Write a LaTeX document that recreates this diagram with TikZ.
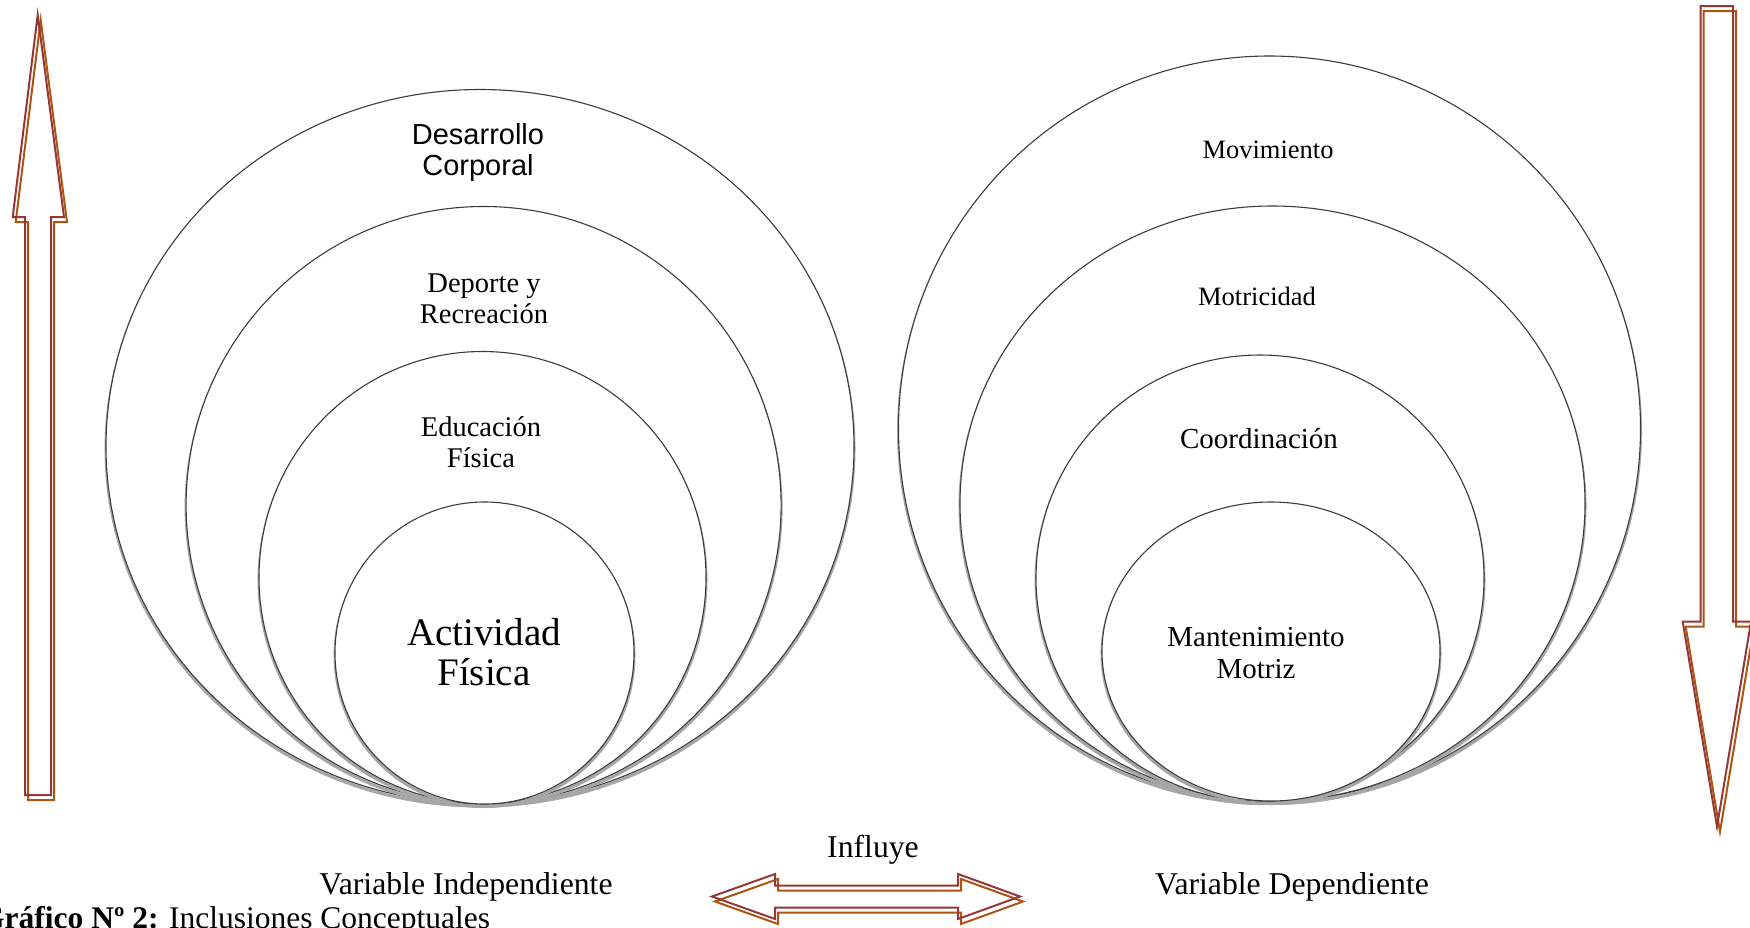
\documentclass[tikz,border=0pt]{standalone}
\usepackage{fontspec}
\setmainfont{Liberation Serif}
\newfontfamily\arialf{Liberation Sans}
\definecolor{arrred}{RGB}{149,55,53}
\definecolor{arrorange}{RGB}{170,86,18}
\definecolor{ringline}{RGB}{60,60,60}
\begin{document}
\begin{tikzpicture}[x=1pt,y=-1pt,
  ring/.style={draw=ringline,line width=1.1pt,fill=white},
  ringshadow/.style={draw=black!35,line width=3pt,shift={(0,2.5)}},
  lbl/.style={align=center,inner sep=0pt},
  redline/.style={draw=arrred,line width=2pt,line join=miter},
  orangeline/.style={draw=arrorange,line width=2pt,line join=miter,shift={(3,5)}}
]
\useasboundingbox (0,0) rectangle (1750,927);

% ---- left ellipses
\foreach \cx/\cy/\rx/\ry in {480/446.5/374/357, 483.6/505/297.5/298.5, 482.5/577.5/223.5/226, 484.5/653/149.5/151}{
  \path[ringshadow] (\cx,\cy) ellipse [x radius=\rx, y radius=\ry];
  \path[ring] (\cx,\cy) ellipse [x radius=\rx, y radius=\ry];
}
% ---- right ellipses
\foreach \cx/\cy/\rx/\ry in {1269.5/428.5/371/372.5, 1272.5/503.5/312.5/297.5, 1260/578/224/223, 1271/651.5/169/149.5}{
  \path[ringshadow] (\cx,\cy) ellipse [x radius=\rx, y radius=\ry];
  \path[ring] (\cx,\cy) ellipse [x radius=\rx, y radius=\ry];
}

% ---- labels inside ellipses
\node[lbl,font=\arialf\fontsize{29}{31}\selectfont] (desc) at (478,152) {Desarrollo\\Corporal};
\node[lbl,font=\fontsize{28.5}{30.5}\selectfont] (dep) at (484,299) {Deporte y\\Recreación};
\node[lbl,font=\fontsize{28.5}{30.5}\selectfont] (edu) at (481,442) {Educación\\Física};
\node[lbl,font=\fontsize{39}{40.5}\selectfont] (act) at (484,652) {Actividad\\Física};

\node[lbl,font=\fontsize{26.5}{30}\selectfont] (mov) at (1268,150) {Movimiento};
\node[lbl,font=\fontsize{26.5}{30}\selectfont] (mot) at (1257,296) {Motricidad};
\node[lbl,font=\fontsize{29}{32}\selectfont] (coo) at (1259,439) {Coordinación};
\node[lbl,font=\fontsize{29}{32}\selectfont] (man) at (1256,653) {Mantenimiento\\Motriz};

% ---- bottom labels
\node[lbl,anchor=base,font=\fontsize{31.7}{34}\selectfont] (vi) at (466,894) {Variable Independiente};
\node[lbl,anchor=base,font=\fontsize{31.7}{34}\selectfont] (vd) at (1292,894) {Variable Dependiente};
\node[lbl,anchor=base,font=\fontsize{31.7}{34}\selectfont] (inf) at (873,857) {Influye};
\node[lbl,anchor=base west,font=\fontsize{31.5}{34}\selectfont] (cap) at (-20,928) {\textbf{Gráfico Nº 2:} Inclusiones Conceptuales};

% ---- up arrow (left)
\foreach \st in {orangeline,redline}{
  \path[\st] (37.7,15) -- (64,217) -- (51,217) -- (51,795) -- (25,795) -- (25,217) -- (12.7,217) -- cycle;
}
% ---- down arrow (right)
\foreach \st in {orangeline,redline}{
  \path[\st] (1700.7,6) -- (1733,6) -- (1733,621.7) -- (1751,621.7) -- (1717,826.7) -- (1682.7,621.7) -- (1700.7,621.7) -- cycle;
}
% ---- double arrow
\foreach \st in {orangeline,redline}{
  \path[\st] (712,896.5) -- (775,874) -- (775,885.5) -- (958,885.5) -- (958,874) -- (1020,896.5) -- (958,919) -- (958,907.5) -- (775,907.5) -- (775,919) -- cycle;
}
\end{tikzpicture}
\end{document}
